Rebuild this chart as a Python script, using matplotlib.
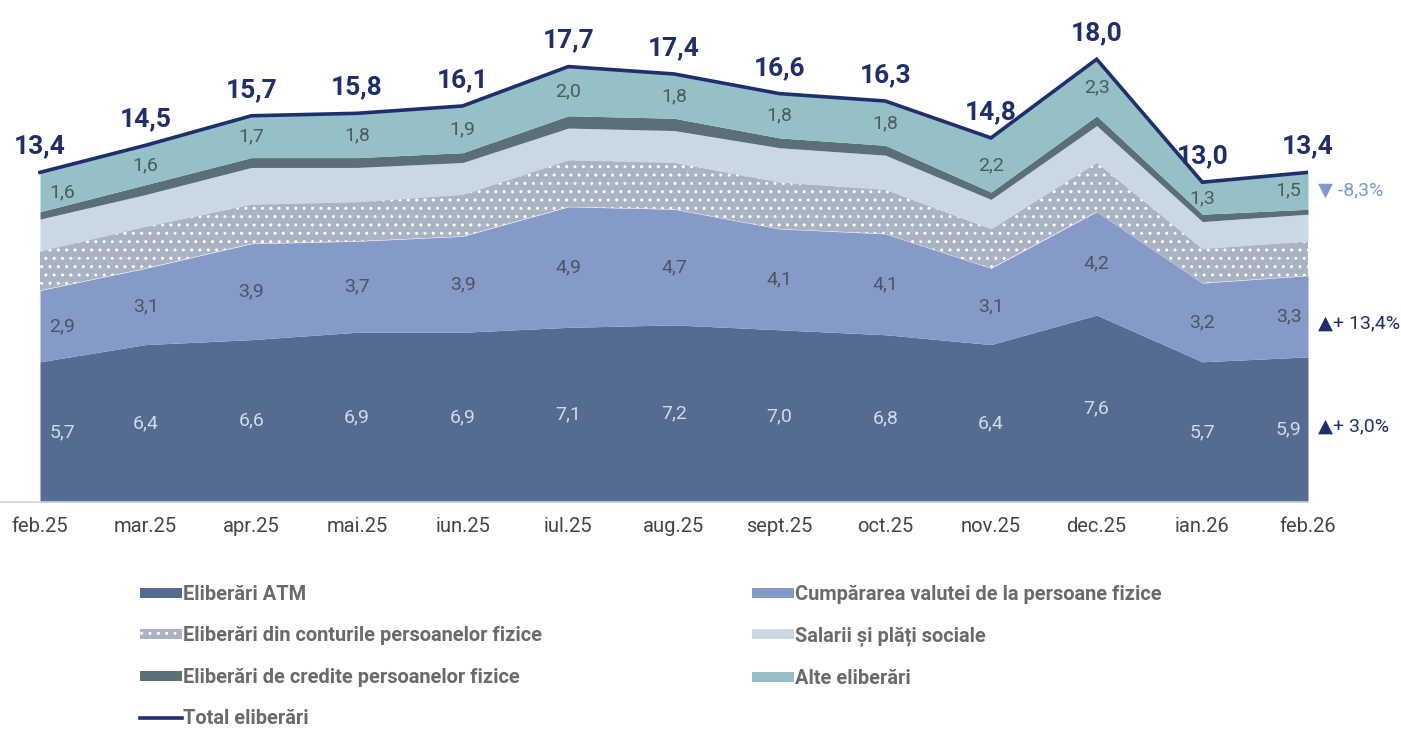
import matplotlib
matplotlib.use("Agg")
import matplotlib.pyplot as plt
from matplotlib.patches import Patch
from matplotlib.lines import Line2D
import numpy as np

plt.rcParams["font.family"] = ["Roboto", "DejaVu Sans"]

months = ["feb.25", "mar.25", "apr.25", "mai.25", "iun.25", "iul.25", "aug.25",
          "sept.25", "oct.25", "nov.25", "dec.25", "ian.26", "feb.26"]

atm = [5.7, 6.4, 6.6, 6.9, 6.9, 7.1, 7.2, 7.0, 6.8, 6.4, 7.6, 5.7, 5.9]
valuta = [2.9, 3.1, 3.9, 3.7, 3.9, 4.9, 4.7, 4.1, 4.1, 3.1, 4.2, 3.2, 3.3]
conturi = [1.6, 1.7, 1.6, 1.6, 1.7, 1.9, 1.9, 1.9, 1.8, 1.6, 2.0, 1.4, 1.4]
salarii = [1.3, 1.3, 1.5, 1.4, 1.3, 1.3, 1.3, 1.4, 1.4, 1.2, 1.5, 1.1, 1.1]
credite = [0.3, 0.4, 0.4, 0.4, 0.4, 0.5, 0.5, 0.4, 0.4, 0.3, 0.4, 0.3, 0.2]
alte = [1.6, 1.6, 1.7, 1.8, 1.9, 2.0, 1.8, 1.8, 1.8, 2.2, 2.3, 1.3, 1.5]
total = [13.4, 14.5, 15.7, 15.8, 16.1, 17.7, 17.4, 16.6, 16.3, 14.8, 18.0, 13.0, 13.4]

changes = ["▼ -8,3%", "▲+ 13,4%", "▲+ 3,0%"]

names = ["Eliberări ATM", "Cumpărarea valutei de la persoane fizice",
         "Eliberări din conturile persoanelor fizice", "Salarii și plăți sociale",
         "Eliberări de credite persoanelor fizice", "Alte eliberări"]
colors = ["#566b91", "#869ac7", "#aab3c3", "#c9d8e3", "#5a6f78", "#94c0c6"]
hatches = [None, None, "..", None, None, None]
line_color = "#1f2f6e"


def fmt(v):
    return f"{v:.1f}".replace(".", ",")


fig = plt.figure(figsize=(14.01, 7.29), dpi=100)
ax = fig.add_axes([0, (729 - 502) / 729, 1308 / 1401, 492 / 729])

x = np.arange(len(months))
series = [atm, valuta, conturi, salarii, credite, alte]
bottoms = []
bottom = np.zeros(len(months))
for vals, col, h in zip(series, colors, hatches):
    top = bottom + np.array(vals)
    ax.fill_between(x, bottom, top, facecolor=col, edgecolor="white" if h else col,
                    hatch=h, linewidth=0)
    bottoms.append(bottom)
    bottom = top
atm_bottom, val_bottom, alte_bottom = bottoms[0], bottoms[1], bottoms[5]

ax.plot(x, total, color=line_color, lw=2.6, solid_joinstyle="miter")

# value labels inside bands (first and last pushed inward a bit)
for i in x:
    dx = 16 if i == 0 else (-14 if i == len(x) - 1 else 0)
    for vals, bot, col in [(atm, atm_bottom, "#d3dae6"), (valuta, val_bottom, "#4f5560"),
                           (alte, alte_bottom, "#4f5a60")]:
        ax.annotate(fmt(vals[i]), (i, bot[i] + vals[i] / 2), xytext=(dx, 0),
                    textcoords="offset points", ha="center", va="center",
                    fontsize=14, color=col)
    ax.annotate(fmt(total[i]), (i, total[i]), xytext=(0, 10), textcoords="offset points",
                ha="center", va="bottom", fontsize=19, fontweight="bold", color=line_color)

# change annotations on the right
ax.annotate(changes[0], (12, alte_bottom[12] + alte[12] / 2), xytext=(7, 0),
            textcoords="offset points", va="center", ha="left", fontsize=14,
            color="#7f9bcb", annotation_clip=False)
ax.annotate(changes[1], (12, val_bottom[12] + valuta[12] / 2), xytext=(7, -5),
            textcoords="offset points", va="center", ha="left", fontsize=14,
            color=line_color, annotation_clip=False)
ax.annotate(changes[2], (12, atm_bottom[12] + atm[12] / 2), xytext=(7, 2),
            textcoords="offset points", va="center", ha="left", fontsize=14,
            color=line_color, annotation_clip=False)

ax.set_xlim(-40 / 105.67, 12)
ax.set_ylim(0, 20)
ax.set_xticks(x)
ax.set_xticklabels(months, fontsize=14.5, color="#444444")
ax.tick_params(axis="x", length=0, pad=11)
ax.set_yticks([])
for s in ["top", "left", "right"]:
    ax.spines[s].set_visible(False)
ax.spines["bottom"].set_color("#cfd4dc")
ax.spines["bottom"].set_linewidth(1.2)

# legend in two columns
handles = [Patch(facecolor=c, edgecolor="white" if h else c, hatch=h, linewidth=0)
           for c, h in zip(colors, hatches)]
total_handle = Line2D([0], [0], color=line_color, lw=2.6)

leg_kw = dict(frameon=False, handlelength=2.1, handleheight=0.4,
              handletextpad=0.05, labelspacing=1.12, borderpad=0, borderaxespad=0,
              loc="upper left", labelcolor="#6a6a6a", prop={"weight": "bold", "size": 14.4})
fig.legend([handles[0], handles[2], handles[4], total_handle],
           [names[0], names[2], names[4], "Total eliberări"],
           bbox_to_anchor=(140 / 1401, (729 - 585) / 729), **leg_kw)
fig.legend([handles[1], handles[3], handles[5]],
           [names[1], names[3], names[5]],
           bbox_to_anchor=(752 / 1401, (729 - 585) / 729), **leg_kw)

fig.savefig("out.png", dpi=100)
